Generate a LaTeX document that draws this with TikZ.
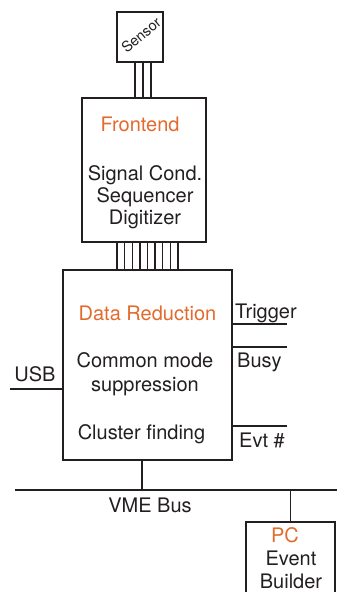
\documentclass[tikz,border=0pt]{standalone}
\usepackage{fontspec}
\setmainfont{TeX Gyre Heros}
\usepackage{tikz}
\definecolor{ink}{RGB}{35,31,32}
\definecolor{title}{RGB}{226,106,44}
\tikzstyle{Box}=[rectangle, draw=ink, line width=1.6pt, inner sep=0pt]
\tikzstyle{Label}=[text=ink, font=\fontsize{20}{23}\selectfont, inner sep=0pt, align=center]
\tikzstyle{Head}=[Label, text=title]
\tikzstyle{Wire}=[draw=ink, line width=1.3pt]

\begin{document}
\begin{tikzpicture}[x=1pt, y=-1pt]
    \clip (0,0) rectangle (337,592);
    \path
    (140,37) node[Box, minimum width=46, minimum height=50] (sensor) {}
    (144,170) node[Box, minimum width=124, minimum height=144] (front) {}
    (147.5,365) node[Box, minimum width=169, minimum height=190] (data) {}
    (290.5,571) node[Box, minimum width=89, minimum height=98] (pc) {};

    \path (141,35) node[Label, rotate=40, font=\fontsize{14.5}{16}\selectfont] (sensortxt) {Sensor}
    (140,124) node[Head] (fronttxt) {Frontend}
    (145,197) node[Label, font=\fontsize{20}{22}\selectfont] (steps) {Signal Cond.\\Sequencer\\Digitizer}
    (147.5,313) node[Head] (datatxt) {Data Reduction}
    (145,374) node[Label, font=\fontsize{20}{24}\selectfont] (cmode) {Common mode\\suppression}
    (141.5,434) node[Label] (cluster) {Cluster finding}
    (235,313) node[Label, anchor=west] (trigtxt) {Trigger}
    (237,362) node[Label, anchor=west] (busytxt) {Busy}
    (239,440) node[Label, anchor=west] (evttxt) {Evt \#}
    (35,374) node[Label] (usbtxt) {USB}
    (150,505) node[Label] (bustxt) {VME Bus}
    (285,535) node[Head] (pctxt) {PC}
    (291,570) node[Label, font=\fontsize{20}{23}\selectfont] (builder) {Event\\Builder};

    \coordinate (trig) at (287,324);
    \coordinate (busy) at (287,347);
    \coordinate (evt) at (287,426);
    \coordinate (usb) at (10,389);
    \coordinate (busL) at (15,490);
    \coordinate (busR) at (337,490);
    \coordinate (tap) at (142,490);

    \foreach \dx in {-9,-1,7}
        \draw[Wire] ([xshift=\dx]front.north) -- ([xshift=\dx]front.north |- sensor.south);
    \foreach \i in {0,...,8}
        \draw[Wire] ([xshift=-30.5+7.625*\i]data.north) -- ([xshift=-30.5+7.625*\i]data.north |- front.south);
    \draw[Wire] (trig -| data.east) -- (trig);
    \draw[Wire] (busy -| data.east) -- (busy);
    \draw[Wire] (evt -| data.east) -- (evt);
    \draw[Wire] (usb) -- (usb -| data.west);
    \draw[Wire] (busL) -- (busR);
    \draw[Wire] (tap |- data.south) -- (tap);
    \draw[Wire] (pc.north) -- (pc.north |- busL);
\end{tikzpicture}
\end{document}
